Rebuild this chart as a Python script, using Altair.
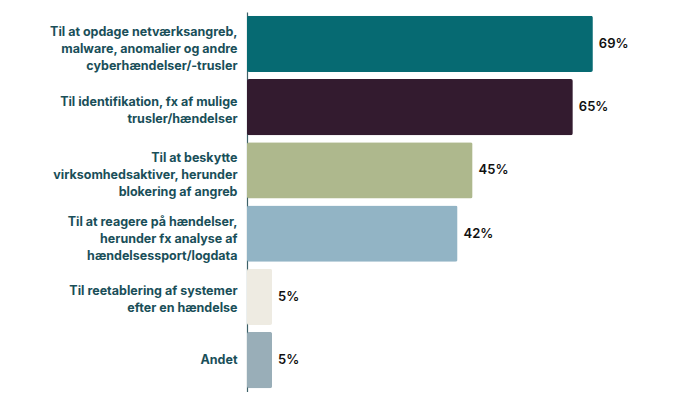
import altair as alt
import pandas as pd

categories = [
    "Til at opdage netværksangreb,|malware, anomalier og andre|cyberhændelser/-trusler",
    "Til identifikation, fx af mulige|trusler/hændelser",
    "Til at beskytte|virksomhedsaktiver, herunder|blokering af angreb",
    "Til at reagere på hændelser,|herunder fx analyse af|hændelsessport/logdata",
    "Til reetablering af systemer|efter en hændelse",
    "Andet",
]
values = [69, 65, 45, 42, 5, 5]
labels = ["69%", "65%", "45%", "42%", "5%", "5%"]
colors = ["#066a72", "#331b2f", "#aeb88d", "#92b4c5", "#eeebe2", "#99aeb8"]

df = pd.DataFrame({"cat": categories, "value": values, "label": labels, "color": colors})

y_enc = alt.Y(
    "cat:N",
    sort=categories,
    scale=alt.Scale(paddingInner=0.11, paddingOuter=0.06),
    axis=alt.Axis(
        title=None,
        labelExpr="split(datum.label, '|')",
        labelFont="Inter",
        labelFontWeight="bold",
        labelFontSize=12.5,
        labelColor="#1a4f59",
        labelLineHeight=17,
        labelPadding=10,
        labelOffset={
            "condition": [
                {"test": "length(split(datum.value, '|')) == 3", "value": -12},
                {"test": "length(split(datum.value, '|')) == 2", "value": -5.5},
            ],
            "value": 0,
        },
        ticks=False,
        domainColor="#3d6168",
        domainWidth=1.2,
        labelLimit=300,
    ),
)
x_enc = alt.X("value:Q", scale=alt.Scale(domain=[0, 80]), axis=None)

bars = alt.Chart(df).mark_bar(cornerRadius=2).encode(
    y=y_enc,
    x=x_enc,
    color=alt.Color("color:N", scale=None),
)
text = alt.Chart(df).mark_text(
    align="left", dx=6, font="Inter", fontSize=13, fontWeight=600, color="#111111"
).encode(y=alt.Y("cat:N", sort=categories), x="value:Q", text="label:N")

chart = (
    alt.layer(bars, text)
    .properties(
        width=401,
        height=380,
        autosize=alt.AutoSizeParams(type="none"),
        padding={"left": 239, "top": 4, "right": 0, "bottom": 0},
    )
    .configure_view(stroke=None)
    .configure_axis(grid=False)
)

chart.save("out.html", embed_options={"renderer": "svg", "actions": False})
